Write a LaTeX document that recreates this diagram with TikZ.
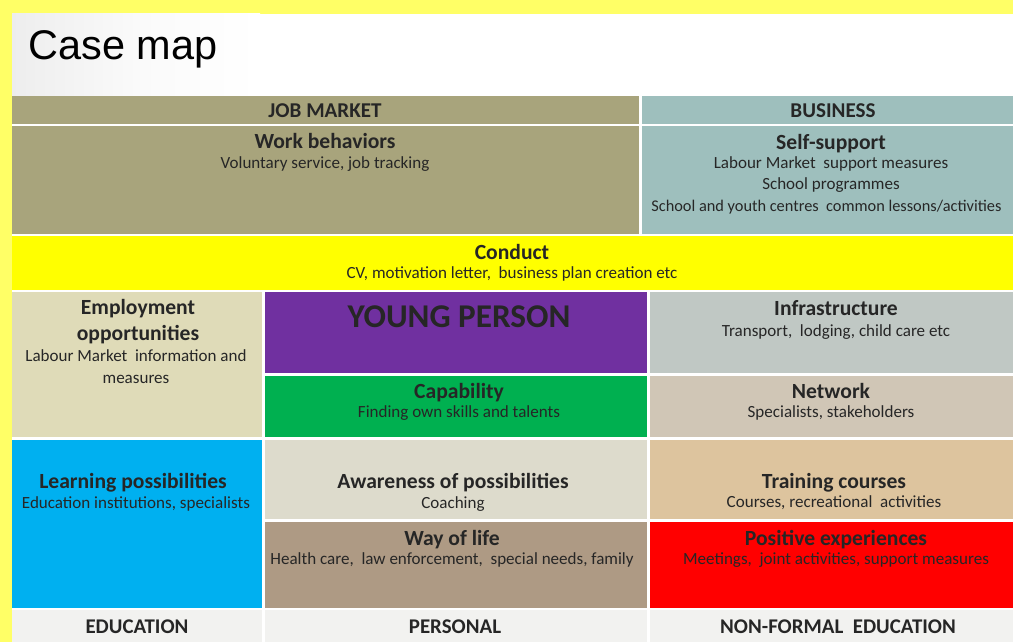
\documentclass[tikz,border=0pt]{standalone}
\usepackage{fontspec}
\setmainfont{Carlito}
\newfontfamily\titlefont{Liberation Sans}
\usetikzlibrary{positioning}

\definecolor{frame}{HTML}{FFFF66}
\definecolor{ink}{HTML}{262626}
\definecolor{jobc}{HTML}{A8A47C}
\definecolor{busc}{HTML}{9EBFBD}
\definecolor{condc}{HTML}{FFFF00}
\definecolor{empc}{HTML}{DFDBB8}
\definecolor{youngc}{HTML}{7030A0}
\definecolor{capc}{HTML}{00B050}
\definecolor{infc}{HTML}{C0C8C4}
\definecolor{netc}{HTML}{D0C6B6}
\definecolor{learnc}{HTML}{00B0F0}
\definecolor{awarec}{HTML}{DDDBCC}
\definecolor{trainc}{HTML}{DDC49E}
\definecolor{wayc}{HTML}{AE9A84}
\definecolor{posc}{HTML}{FF0000}
\definecolor{footc}{HTML}{F2F2F0}

\begin{document}
\begin{tikzpicture}[
    x=0.02cm, y=-0.02cm,
    head/.style={font=\fontsize{12}{14}\selectfont\bfseries, text=ink, anchor=base, inner sep=0pt},
    topic/.style={font=\fontsize{12.3}{14}\selectfont\bfseries, text=ink, anchor=base, inner sep=0pt},
    note/.style={font=\fontsize{9.7}{11}\selectfont, text=ink, anchor=base, inner sep=0pt}
]

\useasboundingbox (0,0) rectangle (1013,642);
\fill[frame] (0,0) rectangle (1013,642);
\fill[white] (12,14) rectangle (1013,642);
\shade[left color=black!7, right color=white, middle color=black!2] (12,14) rectangle (260,96);

% Title
\node[font=\titlefont\fontsize{23.6}{28}\selectfont, anchor=base west, inner sep=0pt] (title) at (28,60) {Case map};

% Cells
\fill[jobc] (12,96) rectangle (639,124);
\fill[busc] (642,96) rectangle (1013,124);
\fill[jobc] (12,126) rectangle (639,234);
\fill[busc] (642,126) rectangle (1013,234);
\fill[condc] (12,236) rectangle (1013,290);
\fill[empc] (12,292) rectangle (262,437);
\fill[youngc] (265,292) rectangle (647,373);
\fill[infc] (650,292) rectangle (1013,373);
\fill[capc] (265,376) rectangle (647,437);
\fill[netc] (650,376) rectangle (1013,437);
\fill[learnc] (12,440) rectangle (262,608);
\fill[awarec] (265,440) rectangle (647,519);
\fill[trainc] (650,440) rectangle (1013,519);
\fill[wayc] (265,522) rectangle (647,608);
\fill[posc] (650,522) rectangle (1013,608);
\fill[footc] (12,610) rectangle (262,642);
\fill[footc] (265,610) rectangle (647,642);
\fill[footc] (650,610) rectangle (1013,642);

% Headers
\node[head] (jobmarket) at (325,117) {JOB MARKET};
\node[head] (business) at (833,117) {BUSINESS};

% Top row
\node[topic] (work) at (325,148) {Work behaviors};
\node[note] (workA) at (325,168) {Voluntary service, job tracking};
\node[topic] (self) at (831,149) {Self-support};
\node[note] (selfA) at (831,168) {Labour Market\ \ support measures};
\node[note] (selfB) at (831,189) {School programmes};
\node[note, font=\fontsize{9.3}{11}\selectfont, anchor=base west] (selfC) at (651,211) {School and youth centres\ \ common lessons/activities};

% Conduct
\node[topic] (conduct) at (512,259) {Conduct};
\node[note] (conductA) at (512,278) {CV, motivation letter,\ \ business plan creation etc};

% Middle rows
\node[topic] (empA) at (138,314) {Employment};
\node[topic] (empB) at (138,340) {opportunities};
\node[note] (empC) at (136,361) {Labour Market\ \ information and};
\node[note] (empD) at (136,383) {measures};
\node[font=\fontsize{18.9}{22}\selectfont\bfseries, text=ink, anchor=base, inner sep=0pt] (young) at (459,327) {YOUNG PERSON};
\node[topic] (infra) at (836,315) {Infrastructure};
\node[note] (infraA) at (836,336) {Transport,\ \ lodging, child care etc};
\node[topic] (cap) at (459,398) {Capability};
\node[note] (capA) at (459,417) {Finding own skills and talents};
\node[topic] (net) at (831,398) {Network};
\node[note] (netA) at (831,417) {Specialists, stakeholders};

% Lower rows
\node[topic] (learn) at (133,488) {Learning possibilities};
\node[note] (learnA) at (136,508) {Education institutions, specialists};
\node[topic] (aware) at (453,488) {Awareness of possibilities};
\node[note] (awareA) at (453,508) {Coaching};
\node[topic] (train) at (834,488) {Training courses};
\node[note] (trainA) at (834,507) {Courses, recreational\ \ activities};
\node[topic] (way) at (452,545) {Way of life};
\node[note] (wayA) at (452,564) {Health care,\ \ law enforcement,\ \ special needs, family};
\node[topic] (pos) at (836,545) {Positive experiences};
\node[note] (posA) at (836,564) {Meetings,\ \ joint activities, support measures};

% Footer
\node[head, font=\fontsize{11.9}{14}\selectfont\bfseries] (edu) at (137,633) {EDUCATION};
\node[head, font=\fontsize{11.9}{14}\selectfont\bfseries] (personal) at (455,633) {PERSONAL};
\node[head, font=\fontsize{11.9}{14}\selectfont\bfseries] (nonformal) at (838,633) {NON-FORMAL\ \ EDUCATION};

\end{tikzpicture}
\end{document}
